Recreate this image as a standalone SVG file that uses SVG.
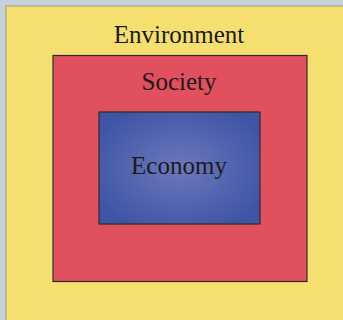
<svg xmlns="http://www.w3.org/2000/svg" width="343" height="320" viewBox="0 0 343 320">
<style>
.lbl{font-family:"Liberation Serif","Times New Roman",serif;font-size:25px;fill:#1c1a1a;text-anchor:middle}
.box{stroke:#2e2a2a;stroke-width:1.2}
</style>
<defs>
<radialGradient id="eg" cx="50%" cy="50%" r="60%">
<stop offset="0" stop-color="#6c78bd"/>
<stop offset="1" stop-color="#3e54a4"/>
</radialGradient>
</defs>
<rect x="0" y="0" width="343" height="320" fill="#c6d0d8"/>
<g id="environment">
<rect x="6" y="6" width="340" height="318" fill="#f5df6e" stroke="#9a9a8a" stroke-width="1"/>
<text class="lbl" x="179" y="43">Environment</text>
</g>
<g id="society">
<rect class="box" x="53" y="55.5" width="254" height="226" fill="#e0505e"/>
<text class="lbl" x="179" y="90">Society</text>
</g>
<g id="economy">
<rect class="box" x="99" y="112" width="161" height="112" fill="url(#eg)"/>
<text class="lbl" x="179" y="174">Economy</text>
</g>
<g id="connectors"></g>
</svg>
